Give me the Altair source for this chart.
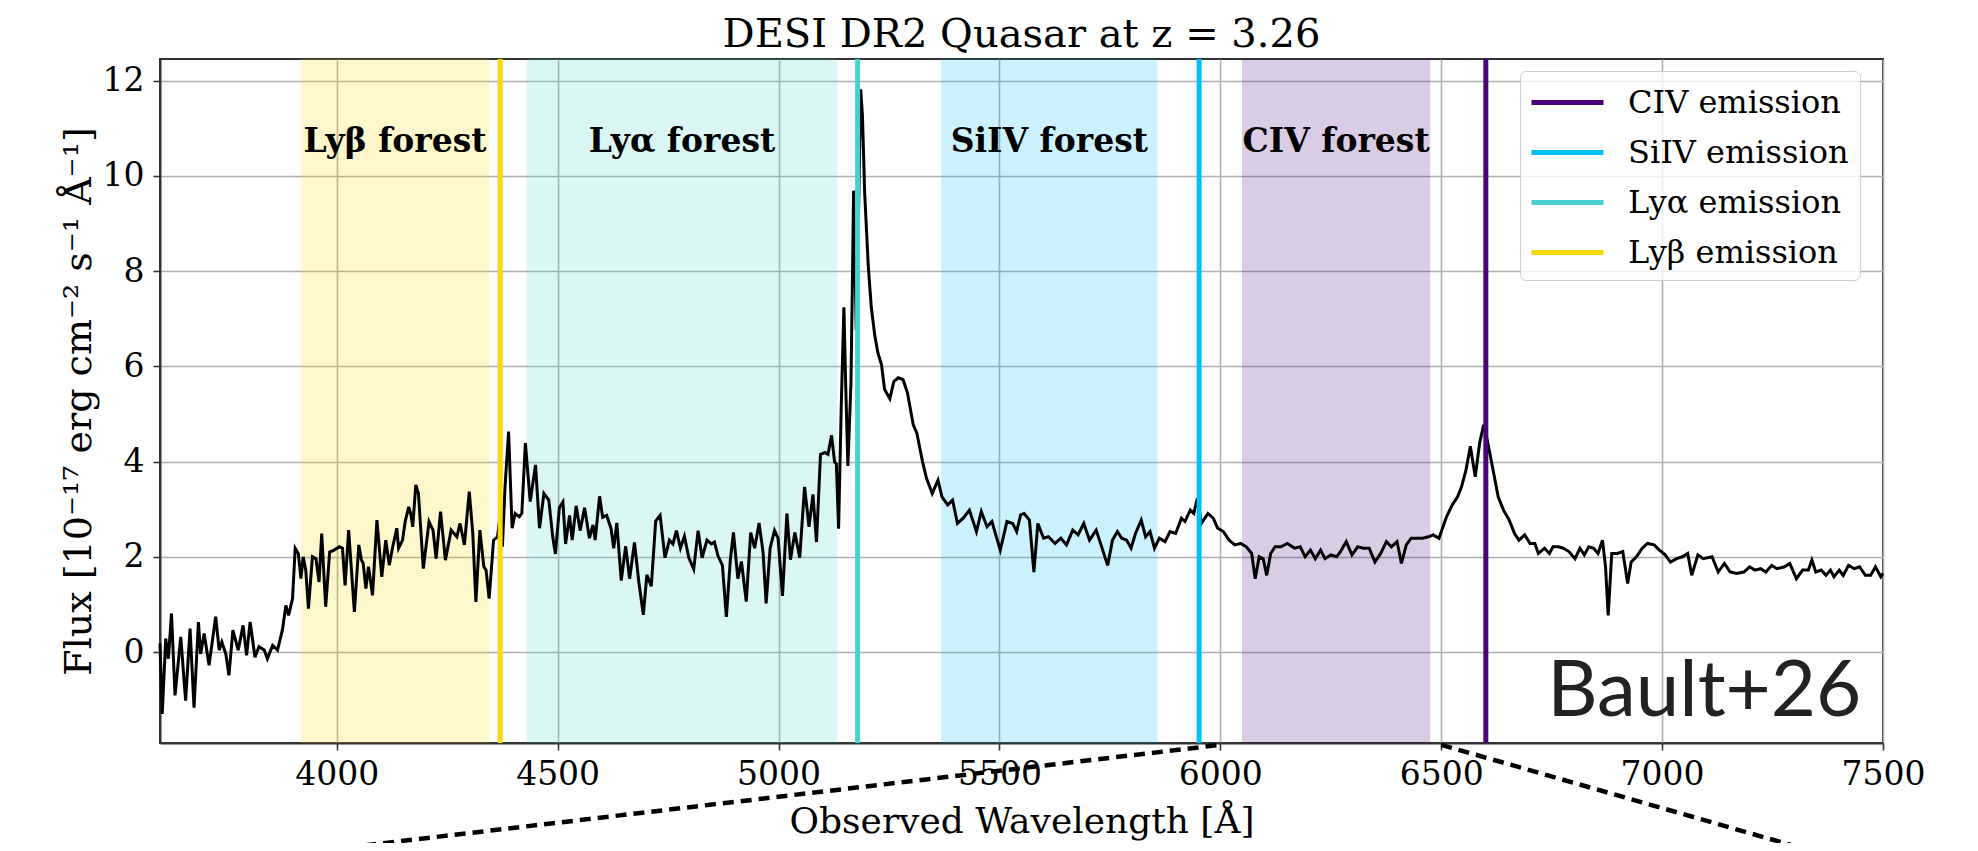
import altair as alt
import pandas as pd

# ---------------- spectrum ----------------
wave = [3600, 3605, 3613, 3619, 3626, 3634, 3647, 3658, 3668, 3677, 3687, 3692, 3700, 3711, 3726, 3734,
        3740, 3749, 3756, 3765, 3777, 3788, 3796, 3804, 3815, 3824, 3836, 3843, 3855, 3866, 3877, 3885,
        3891, 3900, 3906, 3913, 3919, 3924, 3930, 3936, 3945, 3953, 3960, 3966, 3975, 3984, 3994, 4006,
        4013, 4019, 4027, 4040, 4050, 4056, 4060, 4066, 4072, 4081, 4091, 4102, 4111, 4119, 4126, 4136,
        4140, 4149, 4155, 4163, 4168, 4172, 4179, 4185, 4196, 4209, 4218, 4225, 4235, 4246, 4259, 4272,
        4279, 4289, 4300, 4308, 4315, 4324, 4333, 4338, 4345, 4355, 4364, 4369, 4375, 4381, 4389, 4397,
        4404, 4413, 4419, 4427, 4438, 4450, 4459, 4469, 4480, 4489,
        4495, 4504, 4512, 4518, 4527, 4533, 4542, 4551, 4561, 4572, 4580, 4585, 4595, 4602, 4611, 4621,
        4627, 4634, 4644, 4654, 4663, 4674, 4684, 4694, 4702, 4712, 4722, 4732, 4743, 4753, 4761, 4769,
        4778, 4787, 4797, 4808, 4818, 4827, 4838, 4848, 4855, 4863, 4873, 4882, 4891, 4898, 4908, 4916,
        4927, 4937, 4946, 4956, 4965, 4972, 4981, 4991, 4999, 5009, 5019, 5027, 5037, 5048, 5059, 5069,
        5078, 5086, 5095, 5105, 5112, 5120, 5127, 5131, 5136, 5142, 5148, 5152, 5157, 5164, 5170, 5176,
        5182, 5186, 5190, 5195, 5203, 5210, 5218, 5225, 5233, 5240, 5252, 5261, 5271,
        5282, 5292, 5305, 5313, 5326, 5335, 5348, 5361, 5370, 5383, 5394, 5405, 5418, 5432, 5448, 5459,
        5472, 5483, 5502, 5517, 5530, 5539, 5548, 5556, 5568, 5578, 5587, 5600, 5611, 5626, 5639, 5652,
        5666, 5678, 5691, 5704, 5719, 5730, 5745, 5756, 5767, 5777, 5788, 5798, 5808, 5821, 5831, 5841,
        5851, 5862, 5875, 5886, 5899, 5912, 5920, 5932, 5940, 5948, 5957, 5972, 5984, 5994, 6007, 6020,
        6033, 6046, 6059, 6071, 6079, 6088, 6097, 6105, 6114, 6124, 6137, 6152, 6168, 6181, 6192, 6204,
        6215, 6227, 6237, 6250, 6263, 6272, 6285, 6298, 6311, 6324, 6337, 6350, 6363, 6376, 6387, 6400,
        6410, 6421, 6432, 6445, 6458, 6471, 6482, 6495,
        6512, 6525, 6537, 6546, 6556, 6566, 6577, 6587, 6596, 6604, 6616, 6629, 6641, 6654, 6666, 6676,
        6689, 6701, 6712, 6720, 6734, 6745, 6753, 6766, 6776, 6789, 6803, 6814, 6824, 6834, 6845, 6855,
        6865, 6872, 6878, 6886, 6899, 6911, 6922, 6930, 6942, 6955, 6967, 6982, 6994, 7007, 7019, 7033,
        7046, 7058, 7067, 7081, 7093, 7113, 7127, 7141, 7154, 7169, 7185, 7198, 7210, 7223, 7235, 7248,
        7260, 7277, 7289, 7304, 7318, 7331, 7339, 7348, 7360, 7371, 7381, 7389, 7401, 7410, 7422, 7435,
        7447, 7460, 7472, 7483, 7495, 7500]

flux = [0.18, -1.30, 0.28, -0.14, 0.81, -0.91, 0.32, -1.02, 0.49, -1.17, 0.63, -0.04, 0.39, -0.28, 0.74, 0.04,
        0.21, -0.04, -0.49, 0.46, 0.04, 0.56, -0.07, 0.63, -0.11, 0.11, 0.04, -0.14, 0.14, 0.04, 0.46, 0.98,
        0.77, 1.12, 2.18, 2.07, 1.54, 2.00, 1.72, 0.91, 2.00, 1.96, 1.47, 2.49, 0.95, 2.10, 2.14, 2.21,
        2.18, 1.40, 2.56, 0.84, 2.25, 1.93, 1.86, 1.33, 1.79, 1.19, 2.77, 1.58, 2.35, 1.82, 2.18, 2.60,
        2.18, 2.35, 2.74, 3.05, 2.88, 2.63, 3.51, 3.33, 1.75, 2.74, 2.56, 1.96, 2.95, 1.93, 2.56, 2.42,
        2.70, 2.25, 3.37, 2.49, 1.05, 2.56, 1.79, 1.72, 1.12, 2.35, 2.42, 2.81, 2.21, 3.47, 4.63, 2.60,
        2.91, 2.84, 2.91, 4.39, 3.16, 3.93, 2.60, 3.33, 3.19, 2.42,
        2.06, 3.03, 3.15, 2.27, 2.87, 2.35, 3.07, 2.55, 3.03, 2.39, 2.67, 2.35, 3.27, 2.83, 2.87, 2.59,
        2.18, 2.71, 1.50, 2.22, 1.54, 2.30, 1.46, 0.78, 1.62, 1.38, 2.75, 2.87, 1.98, 2.35, 2.27, 2.55,
        2.18, 2.43, 1.98, 1.74, 2.55, 1.98, 2.35, 2.27, 2.31, 2.02, 1.82, 0.74, 1.94, 2.51, 1.54, 1.90,
        1.06, 2.51, 2.18, 2.71, 2.10, 1.02, 2.18, 2.55, 2.39, 1.18, 2.91, 1.94, 2.51, 1.98, 3.47, 2.63,
        3.31, 2.31, 4.15, 4.19, 4.15, 4.55, 3.99, 3.95, 2.59, 5.16, 7.24, 5.64, 3.91, 5.64, 9.69, 6.76,
        9.65, 11.82, 11.26, 9.65, 8.13, 7.24, 6.64, 6.28, 6.04, 5.52, 5.32, 5.68, 5.76,
        5.72, 5.44, 4.77, 4.60, 4.00, 3.65, 3.33, 3.61, 3.26, 3.09, 3.19, 2.70, 2.81, 2.98, 2.53, 2.95,
        2.63, 2.74, 2.14, 2.74, 2.70, 2.53, 2.88, 2.91, 2.77, 1.68, 2.70, 2.39, 2.42, 2.28, 2.39, 2.25,
        2.56, 2.46, 2.70, 2.35, 2.56, 2.25, 1.82, 2.35, 2.53, 2.39, 2.35, 2.18, 2.49, 2.77, 2.42, 2.53,
        2.18, 2.39, 2.32, 2.53, 2.49, 2.81, 2.74, 2.98, 2.91, 3.23, 2.70, 2.91, 2.81, 2.60, 2.53, 2.35,
        2.25, 2.28, 2.21, 2.07, 1.54, 2.00, 1.96, 1.61, 2.07, 2.21, 2.21, 2.28, 2.18, 2.21, 2.00, 2.14,
        1.96, 2.14, 1.96, 2.04, 2.00, 2.11, 2.32, 2.04, 2.21, 2.18, 2.18, 1.89, 2.07, 2.32, 2.21, 2.32,
        1.86, 2.25, 2.39, 2.39, 2.39, 2.42, 2.46, 2.39,
        2.84, 3.09, 3.26, 3.47, 3.82, 4.32, 3.68, 4.39, 4.77, 4.46, 3.89, 3.26, 2.98, 2.77, 2.49, 2.35,
        2.46, 2.28, 2.28, 2.07, 2.18, 2.07, 2.21, 2.21, 2.18, 2.11, 1.96, 2.18, 2.04, 2.21, 2.18, 2.07,
        2.35, 1.79, 0.77, 2.07, 2.07, 2.11, 1.44, 1.89, 2.00, 2.18, 2.28, 2.25, 2.14, 2.04, 1.89, 1.96,
        2.00, 2.07, 1.61, 2.04, 1.96, 2.00, 1.68, 1.86, 1.68, 1.65, 1.68, 1.79, 1.72, 1.75, 1.68, 1.82,
        1.75, 1.79, 1.86, 1.54, 1.72, 1.72, 1.93, 1.68, 1.72, 1.61, 1.72, 1.58, 1.72, 1.61, 1.82, 1.75,
        1.79, 1.61, 1.61, 1.79, 1.58, 1.65]

# ---------------- forest regions ----------------
forest_names = ["Lyβ forest", "Lyα forest", "SiIV forest", "CIV forest"]
forest_start = [3919, 4430, 5368, 6049]
forest_end = [4345, 5133, 5858, 6475]
forest_colors = ["#FFD700", "#48D1CC", "#00BFFF", "#4B0082"]
forest_label_y = [10.51, 10.51, 10.51, 10.51]

# ---------------- emission lines ----------------
line_names = ["CIV emission", "SiIV emission", "Lyα emission", "Lyβ emission"]
line_waves = [6601, 5952, 5179, 4370]
line_colors = ["#4B0082", "#00BFFF", "#48D1CC", "#FFD700"]

# ---------------- zoom connector lines ----------------
zoom_group = ["left", "left", "right", "right"]
zoom_x = [6000, 3660, 6500, 7460]
zoom_y = [-1.95, -4.5, -1.95, -4.5]

credit_text = ["Bault+26"]
credit_x = [7451]
credit_y = [-1.35]

x_ticks = [4000, 4500, 5000, 5500, 6000, 6500, 7000, 7500]
y_ticks = [0, 2, 4, 6, 8, 10, 12]

spec_df = pd.DataFrame({"wave": wave, "flux": flux})
forest_df = pd.DataFrame({"name": forest_names, "start": forest_start, "end": forest_end,
                          "color": forest_colors, "ly": forest_label_y})
forest_df["mid"] = (forest_df["start"] + forest_df["end"]) / 2
lines_df = pd.DataFrame({"name": line_names, "wave": line_waves})
zoom_df = pd.DataFrame({"g": zoom_group, "x": zoom_x, "y": zoom_y})
credit_df = pd.DataFrame({"t": credit_text, "x": credit_x, "y": credit_y})

SERIF = "DejaVu Serif"
xs = alt.Scale(domain=[3600, 7500], nice=False, zero=False)
ys = alt.Scale(domain=[-1.911, 12.455], nice=False, zero=False)
xax = alt.Axis(values=x_ticks, format="d", title="Observed Wavelength [Å]", labelFlush=False,
               labelOverlap=False, labelPadding=8, titleFontSize=36, titlePadding=13)
yax = alt.Axis(values=y_ticks, format="d", title="Flux [10⁻¹⁷ erg cm⁻² s⁻¹ Å⁻¹]", labelFlush=False,
               labelOverlap=False, labelPadding=9, titleFontSize=38, titlePadding=4)


def X(field):
    return alt.X(field, type="quantitative", scale=xs, axis=xax)


def Y(field):
    return alt.Y(field, type="quantitative", scale=ys, axis=yax)


spans = alt.Chart(forest_df).mark_rect(fillOpacity=0.2, strokeWidth=0).encode(
    x=X("start"), x2="end", fill=alt.Fill("color:N", scale=None)
)

spectrum = alt.Chart(spec_df).mark_line(color="black", strokeWidth=3).encode(
    x=X("wave"), y=Y("flux"), order="wave:Q"
)

emission = alt.Chart(lines_df).mark_rule(strokeWidth=5, opacity=1).encode(
    x=X("wave"),
    color=alt.Color("name:N", scale=alt.Scale(domain=line_names, range=line_colors),
                    sort=line_names,
                    legend=alt.Legend(title=None, orient="none", legendX=1360, legendY=12,
                                      symbolType="M-2,0L2,0", symbolSize=1296, symbolStrokeWidth=5,
                                      symbolOpacity=1,
                                      labelFont=SERIF, labelFontSize=32, labelColor="black",
                                      fillColor="rgba(255,255,255,0.8)", strokeColor="#cccccc",
                                      cornerRadius=6, padding=11, rowPadding=13,
                                      symbolOffset=16, labelOffset=40, labelLimit=500)),
)

labels = alt.Chart(forest_df).mark_text(font=SERIF, fontSize=33, fontWeight="bold",
                                        baseline="alphabetic", color="black").encode(
    x=X("mid"), y=Y("ly"), text="name:N"
)

credit = alt.Chart(credit_df).mark_text(font="Lato", fontSize=78, align="right",
                                        baseline="alphabetic", color="#222222").encode(
    x=X("x"), y=Y("y"), text="t:N"
)

connectors = alt.Chart(zoom_df).mark_line(color="black", strokeWidth=4.5, strokeDash=[11, 7],
                                          clip=False).encode(
    x=X("x"), y=Y("y"), detail="g:N"
)

chart = alt.layer(spans, spectrum, emission, labels, credit, connectors).properties(
    width=1723, height=684,
    padding={"left": 152, "top": 51, "right": 60, "bottom": 100},
    autosize=alt.AutoSizeParams(type="none"),
    title=alt.Title("DESI DR2 Quasar at z = 3.26", font=SERIF, fontSize=40, fontWeight="normal",
                    color="black", offset=2, anchor="middle"),
).configure_view(stroke="#333333", strokeWidth=2).configure_axis(
    gridColor="#b0b0b0", gridWidth=1.6, domainColor="#333333", domainWidth=2,
    tickColor="#333333", tickWidth=1.6, tickSize=7,
    labelFont=SERIF, labelFontSize=33, labelColor="black",
    titleFont=SERIF, titleFontWeight="normal", titleColor="black",
)

chart.save("out.html", embed_options={"renderer": "svg", "actions": False})
